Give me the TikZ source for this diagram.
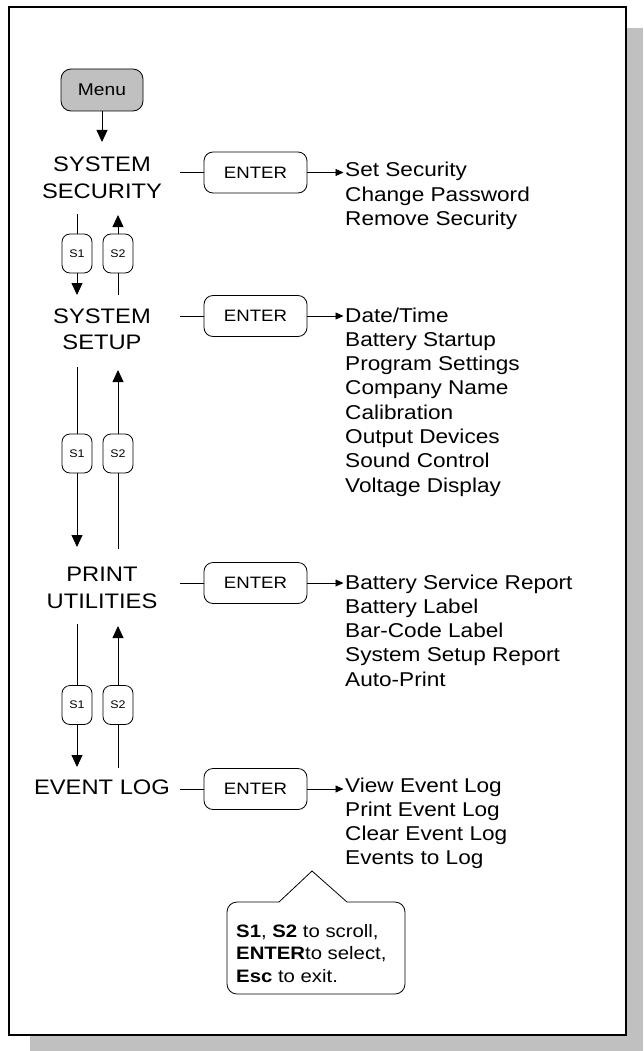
\documentclass[tikz,border=0pt]{standalone}
\usepackage{fontspec}
\setmainfont[FakeStretch=1.13]{Liberation Sans}
\usetikzlibrary{arrows.meta}
\definecolor{shadowgray}{HTML}{C0C0C0}
\definecolor{menugray}{HTML}{C0C0C0}
\begin{document}
\begin{tikzpicture}[x=1pt,y=-1pt,
  lbl/.style={font=\fontsize{21}{26.5}\selectfont, inner sep=0pt, anchor=base},
  lst/.style={font=\fontsize{20}{24.3}\selectfont, inner sep=0pt, anchor=base west},
  ebox/.style={draw, rounded corners=9pt, minimum width=103pt, minimum height=41pt, inner sep=0pt, font=\fontsize{16.5}{18}\selectfont, line width=0.8pt},
  sbox/.style={draw, rounded corners=8pt, minimum width=30pt, minimum height=39pt, inner sep=0pt, font=\fontsize{11}{12}\selectfont, line width=0.8pt},
  conn/.style={line width=0.8pt},
  vtip/.style={conn, -{Triangle[length=12pt,width=11pt]}},
  htip/.style={conn, -{Triangle[length=8pt,width=7pt]}},
]
\useasboundingbox (0,0) rectangle (643,1051);
\fill[white] (0,0) rectangle (643,1051);
\fill[shadowgray] (30,28) rectangle (643,1051);
\draw[line width=1.8pt, fill=white] (9,7) rectangle (626,1035);

% Menu
\node[draw, fill=menugray, rounded corners=10pt, minimum width=82pt, minimum height=42pt, inner sep=0pt, line width=0.8pt, font=\fontsize{17}{18}\selectfont] (menu) at (102,90) {Menu};
\coordinate (menuT) at (102,142);
\draw[vtip] (menu.south) -- (menuT);

% Left labels
\node[lbl] (sec) at (102,171.7) {\begin{tabular}[t]{@{}c@{}}SYSTEM\\SECURITY\end{tabular}};
\node[lbl] (setup) at (102,323) {\begin{tabular}[t]{@{}c@{}}SYSTEM\\SETUP\end{tabular}};
\node[lbl] (print) at (102,581.7) {\begin{tabular}[t]{@{}c@{}}PRINT\\UTILITIES\end{tabular}};
\node[lbl] (event) at (102,794) {EVENT LOG};

% ENTER boxes
\node[ebox] (e1) at (255.5,172.5) {ENTER};
\node[ebox] (e2) at (255.5,316) {ENTER};
\node[ebox] (e3) at (255.5,583) {ENTER};
\node[ebox] (e4) at (255.5,789) {ENTER};

\coordinate (secR) at (180,172.5);
\coordinate (setupR) at (180,316);
\coordinate (printR) at (180,583);
\coordinate (eventR) at (180,789);
\draw[conn] (secR) -- (e1.west);
\draw[conn] (setupR) -- (e2.west);
\draw[conn] (printR) -- (e3.west);
\draw[conn] (eventR) -- (e4.west);

% Item lists
\node[lst] (l1) at (345,177) {\begin{tabular}[t]{@{}l@{}}Set Security\\Change Password\\Remove Security\end{tabular}};
\node[lst] (l2) at (345,322) {\begin{tabular}[t]{@{}l@{}}Date/Time\\Battery Startup\\Program Settings\\Company Name\\Calibration\\Output Devices\\Sound Control\\Voltage Display\end{tabular}};
\node[lst] (l3) at (345,589) {\begin{tabular}[t]{@{}l@{}}Battery Service Report\\Battery Label\\Bar-Code Label\\System Setup Report\\Auto-Print\end{tabular}};
\node[lst] (l4) at (345,792) {\begin{tabular}[t]{@{}l@{}}View Event Log\\Print Event Log\\Clear Event Log\\Events to Log\end{tabular}};

\draw[htip, shorten >=1.5pt] (e1.east) -- (e1.east -| l1.west);
\draw[htip, shorten >=1.5pt] (e2.east) -- (e2.east -| l2.west);
\draw[htip, shorten >=1.5pt] (e3.east) -- (e3.east -| l3.west);
\draw[htip, shorten >=1.5pt] (e4.east) -- (e4.east -| l4.west);

% Scroll buttons: security <-> setup
\node[sbox] (s1a) at (77,253.5) {S1};
\node[sbox] (s2a) at (118,253.5) {S2};
\coordinate (s1aT) at (77,214);
\coordinate (s1aB) at (77,295);
\coordinate (s2aT) at (118,215);
\coordinate (s2aB) at (118,295);
\draw[conn] (s1aT) -- (s1a.north);
\draw[vtip] (s1a.south) -- (s1aB);
\draw[conn] (s2aB) -- (s2a.south);
\draw[vtip] (s2a.north) -- (s2aT);

% setup <-> print
\node[sbox] (s1b) at (77,453.5) {S1};
\node[sbox] (s2b) at (118,453.5) {S2};
\coordinate (s1bT) at (77,367);
\coordinate (s1bB) at (77,547);
\coordinate (s2bT) at (118,370);
\coordinate (s2bB) at (118,549);
\draw[conn] (s1bT) -- (s1b.north);
\draw[vtip] (s1b.south) -- (s1bB);
\draw[conn] (s2bB) -- (s2b.south);
\draw[vtip] (s2b.north) -- (s2bT);

% print <-> event
\node[sbox] (s1c) at (77,705) {S1};
\node[sbox] (s2c) at (118,705) {S2};
\coordinate (s1cT) at (77,624);
\coordinate (s1cB) at (77,767);
\coordinate (s2cT) at (118,626);
\coordinate (s2cB) at (118,768);
\draw[conn] (s1cT) -- (s1c.north);
\draw[vtip] (s1c.south) -- (s1cB);
\draw[conn] (s2cB) -- (s2c.south);
\draw[vtip] (s2c.north) -- (s2cT);

% Callout
\draw[conn, fill=white] (312,871) -- (347,902) [rounded corners=10pt] -- (405,902) -- (405,994) -- (227,994) -- (227,902) [sharp corners] -- (279,902) -- cycle;
\node[anchor=base west, inner sep=0pt, font=\fontsize{18}{22.5}\selectfont] (hint) at (236,937) {\begin{tabular}[t]{@{}l@{}}\textbf{S1}, \textbf{S2} to scroll,\\\textbf{ENTER}to select,\\\textbf{Esc} to exit.\end{tabular}};
\end{tikzpicture}
\end{document}
